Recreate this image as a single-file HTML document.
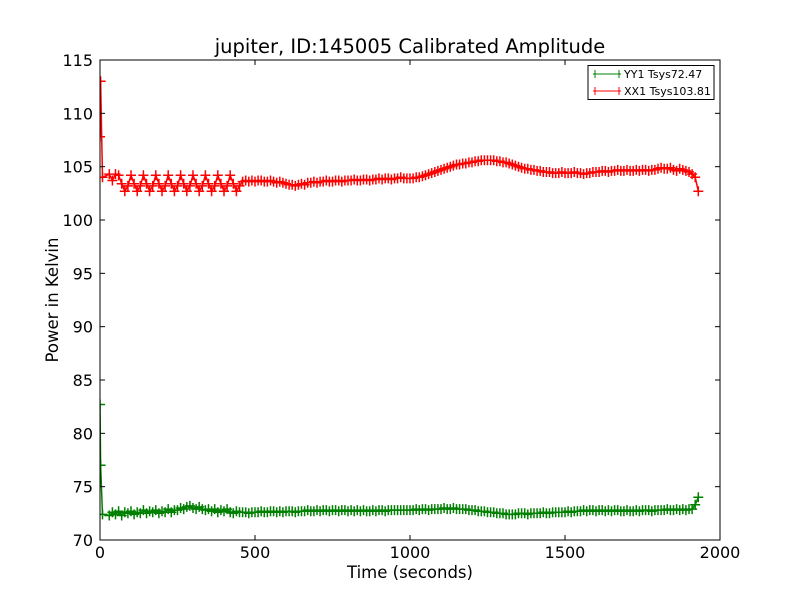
<!DOCTYPE html>
<html><head><meta charset="utf-8"><style>
body{margin:0;background:#fff;}
svg{display:block;font-family:"DejaVu Sans","Liberation Sans",sans-serif;}
</style></head><body>
<svg id="chart" width="800" height="600">
<rect x="0" y="0" width="800" height="600" fill="#fff"/>
<text x="410" y="53" font-size="19.5" text-anchor="middle">jupiter, ID:145005 Calibrated Amplitude</text>
<g id="plot"></g>
<g id="axes"></g>
<text x="410" y="578" font-size="16.5" text-anchor="middle">Time (seconds)</text>
<text transform="translate(58,300) rotate(-90)" font-size="16.5" text-anchor="middle">Power in Kelvin</text>
<g>
<rect x="588" y="65.5" width="126" height="34" fill="#fff" stroke="#000" stroke-width="1"/>
<g>
<line x1="593" y1="74" x2="621" y2="74" stroke="#008000"/><line x1="595" y1="70" x2="595" y2="78" stroke="#008000"/><line x1="619" y1="70" x2="619" y2="78" stroke="#008000"/>
<text x="624" y="78" font-size="11">YY1 Tsys72.47</text></g>
<g>
<line x1="593" y1="91" x2="621" y2="91" stroke="#ff0000"/><line x1="595" y1="87" x2="595" y2="95" stroke="#ff0000"/><line x1="619" y1="87" x2="619" y2="95" stroke="#ff0000"/>
<text x="624" y="95" font-size="11">XX1 Tsys103.81</text></g>
</g>
</svg>
<script>
const xTicks=[0,500,1000,1500,2000];
const yTicks=[70,75,80,85,90,95,100,105,110,115];
const startTimes=[0,2,8];
const timeStep=10;
const yy1Values=[82.7,77.0,72.4,
72.3,72.6,72.4,72.7,72.3,72.6,72.5,72.7,72.4,72.6,72.5,72.8,72.5,72.7,72.6,72.8,72.5,72.7,72.6,72.9,72.6,72.8,
72.8,73.0,72.9,73.1,73.2,73.0,72.9,73.1,72.9,72.8,72.9,
72.7,72.9,72.6,72.8,72.7,72.9,72.6,72.5,72.7,72.6,
72.6,72.6,72.5,72.6,72.6,72.6,72.7,72.6,72.6,72.7,72.7,72.6,72.7,72.6,72.7,72.7,72.7,72.6,72.7,72.7,72.7,72.8,72.7,72.7,72.8,72.7,72.8,72.8,72.7,72.8,72.8,72.7,72.8,72.8,72.7,72.8,72.7,72.8,72.7,72.8,72.7,72.7,72.8,72.7,72.8,72.8,72.7,72.8,72.8,72.8,72.8,72.8,72.8,72.8,72.8,
72.8,72.9,72.8,72.9,72.9,72.8,72.9,72.9,72.9,72.9,73.0,72.9,72.9,73.0,72.9,72.9,72.9,72.9,72.8,72.8,
72.8,72.7,72.7,72.7,72.6,72.6,72.6,72.5,72.5,72.5,72.4,72.4,72.4,72.4,72.5,
72.5,72.5,72.4,72.5,72.5,72.5,72.5,72.6,72.5,72.5,72.6,72.6,72.6,72.6,72.6,
72.7,72.6,72.7,72.7,72.7,72.8,72.7,72.8,72.8,72.7,72.8,72.8,72.7,72.8,72.7,72.8,72.8,72.7,72.7,72.8,72.7,72.7,72.8,72.7,72.8,72.8,72.8,72.7,72.8,72.8,72.8,72.8,72.9,72.8,72.8,72.9,72.8,72.9,72.8,72.9,
72.9,73.3,74.0];
const xx1Values=[107.8,113.0,104.0,104.3,103.7,104.3,
104.2,103.4,102.7,103.2,104.2,103.4,102.7,103.2,104.2,103.4,102.7,103.2,104.2,103.4,102.7,103.2,104.2,103.4,102.7,103.2,
104.2,103.4,102.7,103.2,104.2,103.4,102.7,103.2,104.2,103.4,102.7,103.2,104.2,103.4,102.7,103.2,104.2,103.4,102.7,103.2,
103.6,103.7,103.6,103.7,103.6,103.7,103.7,103.6,103.6,103.7,103.6,103.5,103.6,103.5,103.4,
103.3,103.3,103.2,103.3,103.4,103.3,103.5,103.5,103.6,103.5,
103.6,103.6,103.7,103.6,103.6,103.7,103.7,103.6,103.7,103.7,103.7,103.8,103.7,103.7,103.8,103.8,103.7,103.8,103.8,103.9,103.8,103.9,103.9,103.8,103.9,103.9,104.0,103.9,103.9,103.9,
103.9,104.0,104.0,104.1,104.2,104.3,104.4,104.5,104.6,104.7,
104.8,104.9,105.0,105.1,105.2,105.2,105.3,105.3,105.4,105.4,105.5,105.5,105.6,105.6,105.6,105.6,105.6,
105.5,105.5,105.4,105.4,105.3,105.2,105.1,105.0,104.9,104.8,104.8,104.7,104.7,
104.6,104.6,104.5,104.5,104.5,104.4,104.4,104.4,104.5,104.4,104.4,104.4,104.5,104.4,104.4,104.3,104.4,104.4,104.5,104.5,
104.5,104.6,104.6,104.5,104.6,104.6,104.7,104.6,104.6,104.7,104.6,104.6,104.7,104.6,104.7,104.7,104.6,104.7,104.7,104.8,
104.9,104.8,104.8,104.9,104.7,104.6,104.8,104.7,104.6,104.5,
104.3,104.0,102.7];

const L=100,R=720,T=60,B=540,xMin=0,xMax=2000,yMin=70,yMax=115;
const xs=v=>L+(v-xMin)/(xMax-xMin)*(R-L);
const ys=v=>B-(v-yMin)/(yMax-yMin)*(B-T);
const timeAt=i=>i<startTimes.length?startTimes[i]:i*timeStep;
const NS='http://www.w3.org/2000/svg';
const plot=document.getElementById('plot'),axes=document.getElementById('axes');
function mk(tag,attrs,parent){const e=document.createElementNS(NS,tag);for(const k in attrs)e.setAttribute(k,attrs[k]);parent.appendChild(e);return e;}
const cp=mk('clipPath',{id:'clip'},plot);mk('rect',{x:L,y:T,width:R-L,height:B-T},cp);
function series(vals,color,name){
  const g=mk('g',{'clip-path':'url(#clip)'},plot);
  
  
  let d='',m='';
  vals.forEach((v,i)=>{const x=xs(timeAt(i)),y=ys(v);d+=(i?'L':'M')+x.toFixed(1)+' '+y.toFixed(1);
    m+='M'+(x-5).toFixed(1)+' '+y.toFixed(1)+'h10M'+x.toFixed(1)+' '+(y-5).toFixed(1)+'v10';});
  const ln=mk('path',{d:d,fill:'none',stroke:color,'stroke-width':1.5},g);
  
  
  const mp=mk('path',{d:m,fill:'none',stroke:color,'stroke-width':1.5},g);
  
  
}
series(yy1Values,'#008000','series-yy1');
series(xx1Values,'#ff0000','series-xx1');
const fr=mk('rect',{x:L,y:T,width:R-L,height:B-T,fill:'none',stroke:'#000','stroke-width':1},axes);


xTicks.forEach(t=>{const x=xs(t);
  mk('line',{x1:x,y1:B,x2:x,y2:B-5,stroke:'#000'},axes);mk('line',{x1:x,y1:T,x2:x,y2:T+5,stroke:'#000'},axes);
  const tx=mk('text',{x:x,y:B+18,'font-size':16,'text-anchor':'middle'},axes);tx.textContent=t;
  
  });
yTicks.forEach(t=>{const y=ys(t);
  mk('line',{x1:L,y1:y,x2:L+5,y2:y,stroke:'#000'},axes);mk('line',{x1:R,y1:y,x2:R-5,y2:y,stroke:'#000'},axes);
  const tx=mk('text',{x:L-7,y:y+6,'font-size':16,'text-anchor':'end'},axes);tx.textContent=t;
  
  });
</script>
</body></html>
